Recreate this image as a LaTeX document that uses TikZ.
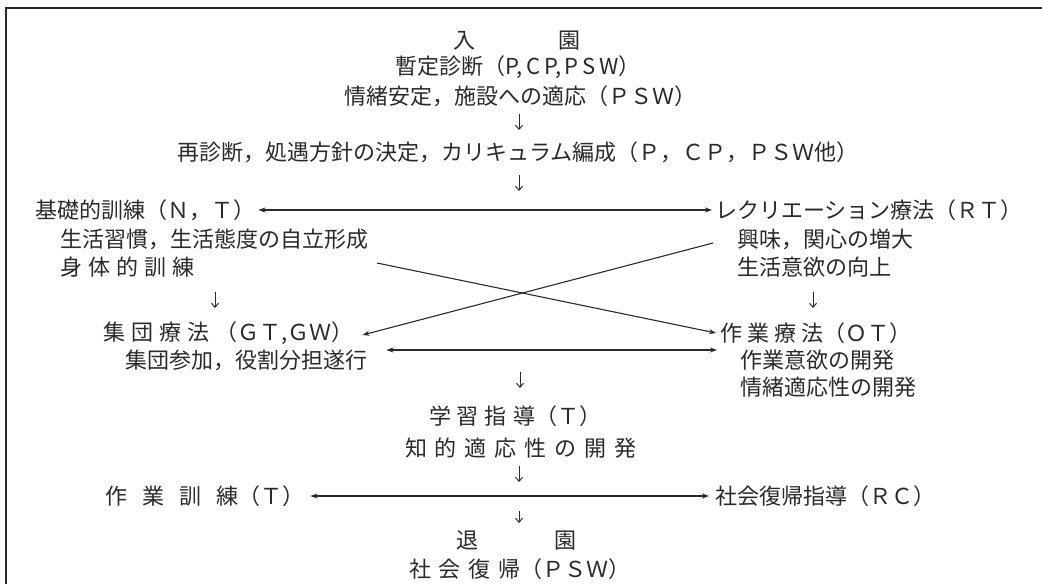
\documentclass[tikz,border=0pt]{standalone}
\usepackage{fontspec}
\setmainfont{Noto Sans CJK JP}
\usetikzlibrary{arrows.meta,calc}
\definecolor{ink}{HTML}{2A2A2A}
\newcommand\gp[1]{\hspace{#1pt}}
\begin{document}
\begin{tikzpicture}[x=1pt,y=-1pt,
  txt/.style={inner sep=0pt, font=\fontsize{22pt}{26pt}\selectfont, text=ink},
  lt/.style={txt, anchor=west},
  dbl/.style={{Stealth[length=7pt,width=5pt]}-{Stealth[length=7pt,width=5pt]}, line width=1.1pt, draw=ink},
  arr/.style={-{Stealth[length=7pt,width=5pt]}, line width=1.1pt, draw=ink},
  down/.style={-{Straight Barb[length=4pt,width=7pt]}, line width=1pt, draw=ink},
  frame/.style={line width=2.4pt, draw=ink}]
\useasboundingbox[fill=white] (0,0) rectangle (1042,584);
\draw[frame] (6,584) -- (6,8) -- (1042,8);

% top column
\node[txt] (nyu) at (517,41) {入\gp{83}園};
\node[txt] (zantei) at (518,67) {暫定診断（P,\,C\,P,\,P\,S\,W）};
\node[txt] (jocho) at (520,96) {情緒安定，施設への適応（ＰＳＷ）};
\coordinate (d1) at (519,122);
\node[txt] (saishin) at (518,152) {再診断，処遇方針の決定，カリキュラム編成（Ｐ，ＣＰ，ＰＳＷ他）};
\coordinate (d2) at (519,183);

% first row
\node[lt] (kiso) at (35,210) {基礎的訓練（Ｎ，Ｔ）};
\node[lt] (rec) at (715,210) {レクリエーション療法（ＲＴ）};
\draw[dbl] ([xshift=3pt]kiso.east) -- ([xshift=-3pt]rec.west);
\node[lt] (seikatsu) at (60,239) {生活習慣，生活態度の自立形成};
\node[lt] (shintai) at (60,267) {身\gp{6}体\gp{6}的\gp{6}訓\gp{6}練};
\node[lt] (kyomi) at (737,239) {興味，関心の増大};
\node[lt] (iyoku) at (737,267) {生活意欲の向上};
\coordinate (d3) at (215,300);
\coordinate (d4) at (813,300);

% second row
\node[lt] (shudan) at (103,333) {集\gp{6}団\gp{6}療\gp{6}法\gp{6}（ＧＴ,ＧＷ）};
\node[lt] (sagyo) at (720,333) {作\gp{5}業\gp{5}療\gp{5}法（ＯＴ）};
\node[lt] (sanka) at (125,360) {集団参加，役割分担遂行};
\node[lt] (sagyoiyoku) at (740,360) {作業意欲の開発};
\node[lt] (jochotekio) at (740,387) {情緒適応性の開発};
\draw[dbl] ($(sanka.east)+(19,-10)$) -- ($(sagyoiyoku.west)+(-23,-10)$);

% crossing connectors
\coordinate (x1) at (377,263);
\draw[arr] (x1) -- ([xshift=-4pt]sagyo.west);
\draw[arr] ([xshift=-24pt,yshift=-4pt]kyomi.west) -- ([xshift=9pt,yshift=-2pt]shudan.east);

\coordinate (d5) at (520,380);

% lower column
\node[txt] (gakushu) at (515,416) {学\gp{6}習\gp{6}指\gp{6}導（Ｔ）};
\node[txt] (chiteki) at (521,448) {知\gp{8}的\gp{8}適\gp{8}応\gp{8}性\gp{8}の\gp{8}開\gp{8}発};
\coordinate (d6) at (519,474);
\node[lt] (kunren) at (105,496) {作\gp{15}業\gp{15}訓\gp{15}練（Ｔ）};
\node[lt] (fukki) at (715,496) {社会復帰指導（ＲＣ）};
\draw[dbl] ([xshift=6pt]kunren.east) -- ([xshift=-6pt]fukki.west);
\coordinate (d7) at (519,517);
\node[txt] (taien) at (516,540) {退\gp{76}園};
\node[txt] (shakai) at (520,569) {社\gp{8}会\gp{8}復\gp{8}帰（ＰＳＷ）};

% down arrows
\foreach \d in {d1,d2,d3,d4,d5,d6}
  \draw[down] ([yshift=8pt]\d) -- ([yshift=-8pt]\d);
\draw[down] ([yshift=6pt]d7) -- ([yshift=-6pt]d7);
\end{tikzpicture}
\end{document}
